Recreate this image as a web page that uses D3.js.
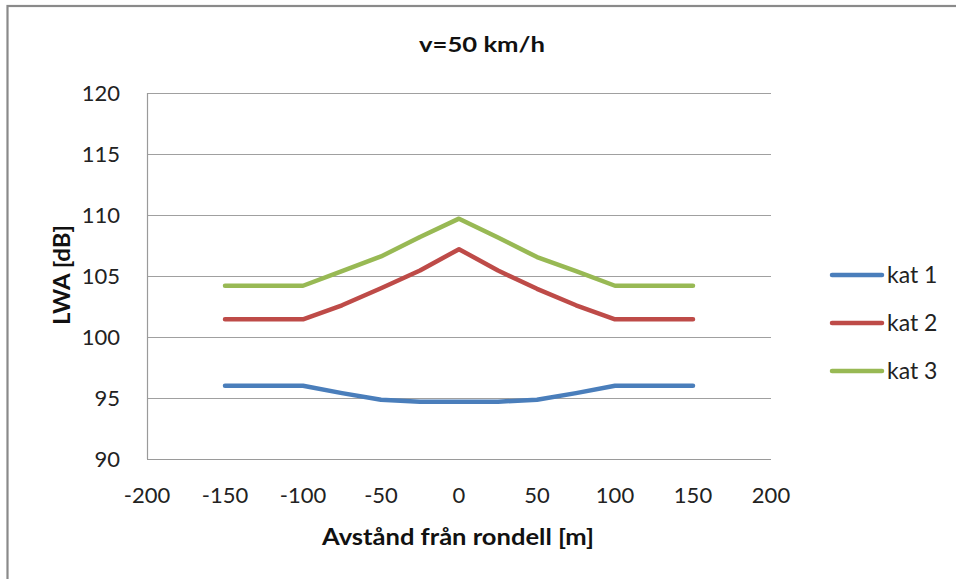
<!DOCTYPE html>
<html><head><meta charset="utf-8">
<script src="https://cdn.jsdelivr.net/npm/d3@7"></script>
<style>body{margin:0;background:#fff}svg{display:block}</style>
</head><body>
<script>
const distances = [-150, -100, -75, -50, -25, 0, 25, 50, 75, 100, 150];
const kat1 = [96.0, 96.0, 95.4, 94.85, 94.7, 94.7, 94.7, 94.85, 95.4, 96.0, 96.0];
const kat2 = [101.45, 101.45, 102.6, 104.0, 105.45, 107.2, 105.45, 103.95, 102.6, 101.45, 101.45];
const kat3 = [104.2, 104.2, 105.4, 106.6, 108.2, 109.7, 108.15, 106.55, 105.4, 104.2, 104.2];
const seriesNames = ["kat 1", "kat 2", "kat 3"];
const seriesColors = ["#4a7ebb", "#be4b48", "#98b954"];
const xTicks = [-200, -150, -100, -50, 0, 50, 100, 150, 200];
const yTicks = [90, 95, 100, 105, 110, 115, 120];
const titleText = "v=50 km/h";
const xTitle = "Avstånd från rondell [m]";
const yTitle = "LWA [dB]";

const W = 956, H = 579;
const font = "Lato, 'Open Sans', sans-serif";
const svg = d3.select("body").append("svg").attr("width", W).attr("height", H);

// outer frame
svg.append("rect").attr("x", 7.5).attr("y", 6).attr("width", W + 10).attr("height", H + 10)
  .attr("fill", "none").attr("stroke", "#8a8a8a").attr("stroke-width", 2.2);

const x = d3.scaleLinear().domain([-200, 200]).range([147, 771]);
const y = d3.scaleLinear().domain([90, 120]).range([459, 93]);

// gridlines
svg.append("g").selectAll("line").data(yTicks.filter(v => v !== 90)).join("line")
  .attr("x1", x(-200)).attr("x2", x(200))
  .attr("y1", d => y(d) + 0.5).attr("y2", d => y(d) + 0.5)
  .attr("stroke", "#a0a0a0").attr("stroke-width", 1.2);

// axes lines
svg.append("line").attr("x1", x(-200) + 0.5).attr("x2", x(-200) + 0.5).attr("y1", y(120)).attr("y2", y(90))
  .attr("stroke", "#9a9a9a").attr("stroke-width", 1.2);
svg.append("line").attr("x1", x(-200)).attr("x2", x(200)).attr("y1", y(90) + 0.5).attr("y2", y(90) + 0.5)
  .attr("stroke", "#9a9a9a").attr("stroke-width", 1.2);

// tick labels
svg.append("g").selectAll("text").data(yTicks).join("text")
  .attr("x", 120).attr("y", d => y(d)).attr("dy", "0.35em")
  .attr("text-anchor", "end").attr("font-family", font).attr("font-size", 22).attr("fill", "#222")
  .text(d => d);
svg.append("g").selectAll("text").data(xTicks).join("text")
  .attr("x", d => x(d)).attr("y", 495).attr("dy", "0.35em")
  .attr("text-anchor", "middle").attr("font-family", font).attr("font-size", 22).attr("fill", "#222")
  .text(d => d);

// titles
svg.append("text").attr("x", 482).attr("y", 45).attr("dy", "0.35em").attr("text-anchor", "middle")
  .attr("font-family", font).attr("font-weight", "bold").attr("font-size", 21).attr("fill", "#111")
  .attr("textLength", 126).attr("lengthAdjust", "spacingAndGlyphs").text(titleText);
svg.append("text").attr("x", 458).attr("y", 537).attr("dy", "0.35em").attr("text-anchor", "middle")
  .attr("font-family", font).attr("font-weight", "bold").attr("font-size", 23).attr("fill", "#111")
  .attr("textLength", 272).attr("lengthAdjust", "spacingAndGlyphs").text(xTitle);
svg.append("text").attr("transform", "translate(62,275) rotate(-90)").attr("dy", "0.35em").attr("text-anchor", "middle")
  .attr("font-family", font).attr("font-weight", "bold").attr("font-size", 23).attr("fill", "#111")
  .attr("textLength", 100).attr("lengthAdjust", "spacingAndGlyphs").text(yTitle);

// lines
const data = [kat1, kat2, kat3];
const line = d3.line().x((d, i) => x(distances[i])).y(d => y(d));
svg.append("g").selectAll("path").data(data).join("path")
  .attr("d", d => line(d)).attr("fill", "none")
  .attr("stroke", (d, i) => seriesColors[i]).attr("stroke-width", 4.5)
  .attr("stroke-linejoin", "round").attr("stroke-linecap", "round");

// legend
const lg = svg.append("g").selectAll("g").data(seriesNames).join("g")
  .attr("transform", (d, i) => `translate(0,${275 + i * 48})`);
lg.append("line").attr("x1", 832).attr("x2", 882).attr("y1", 0).attr("y2", 0)
  .attr("stroke", (d, i) => seriesColors[i]).attr("stroke-width", 4.5).attr("stroke-linecap", "round");
lg.append("text").attr("x", 887).attr("y", 0).attr("dy", "0.35em")
  .attr("font-family", font).attr("font-size", 23).attr("fill", "#222").text(d => d);
</script>
</body></html>
